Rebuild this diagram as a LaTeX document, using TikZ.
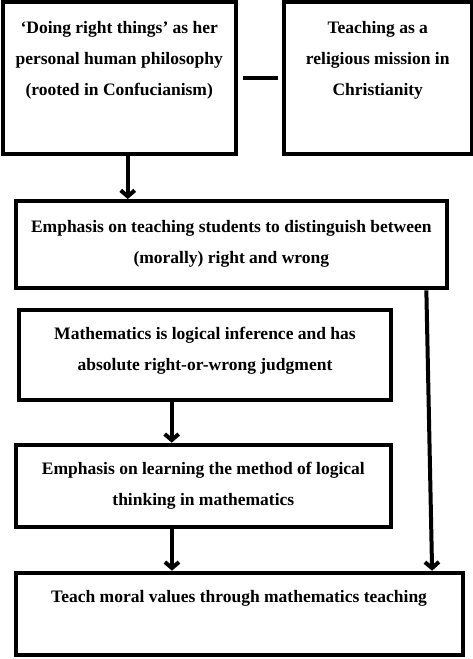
\documentclass[tikz,border=0pt]{standalone}
\usepackage{fontspec}
\setmainfont{Liberation Serif}
\usetikzlibrary{arrows.meta}
\tikzset{
    >={Straight Barb[length=6pt,width=14pt]},
    % Boxes
    frame/.style={rectangle, draw, line width=4pt, inner sep=0pt},
    boxtxt/.style={anchor=north, inner sep=0pt, align=center, yshift=-#1,
                   font=\fontsize{17.5}{31}\selectfont\bfseries},
    boxtxt/.default=19.5pt,
    % Connectors
    flow/.style={->, line width=4pt},
    link/.style={line width=4pt, shorten <=5pt, shorten >=4pt}
}
\begin{document}
\begin{tikzpicture}[x=1pt, y=-1pt]
\useasboundingbox (0,0) rectangle (473,659);

% top row
\node[frame, minimum width=233.5pt, minimum height=152pt,
      label={[boxtxt=21.5pt]north:{‘Doing right things’ as her\\personal human philosophy\\(rooted in Confucianism)}}] (philo) at (119.25,78) {};
\node[frame, minimum width=187.5pt, minimum height=152pt,
      label={[boxtxt=21.5pt]north:{Teaching as a\\religious mission in\\Christianity}}] (mission) at (377.75,78) {};

% middle and bottom
\node[frame, minimum width=430.7pt, minimum height=87.3pt,
      label={[boxtxt=21pt]north:{Emphasis on teaching students to distinguish between\\(morally) right and wrong}}] (moral) at (231.35,244.65) {};
\node[frame, minimum width=372pt, minimum height=90.2pt,
      label={[boxtxt]north:{Mathematics is logical inference and has\\absolute right-or-wrong judgment}}] (logic) at (205,354.6) {};
\node[frame, minimum width=375.3pt, minimum height=82.3pt,
      label={[boxtxt]north:{Emphasis on learning the method of logical\\thinking in mathematics}}] (method) at (203.35,485.85) {};
\node[frame, minimum width=446.8pt, minimum height=82.3pt,
      label={[boxtxt]north:{Teach moral values through mathematics teaching}}] (values) at (239.1,613.85) {};

\draw[link] (philo.east) -- (mission.west);
\draw[flow] ([xshift=8.5pt]philo.south) -- ([xshift=8.5pt]philo.south |- moral.north);
\draw[flow] ([xshift=-33.3pt]logic.south) -- ([xshift=-33.3pt]logic.south |- method.north);
\draw[flow] ([xshift=-31.4pt]method.south) -- ([xshift=-31.4pt]method.south |- values.north);
\draw[flow] ([xshift=195pt]moral.south) -- ([xshift=193pt]values.north);

\end{tikzpicture}
\end{document}
